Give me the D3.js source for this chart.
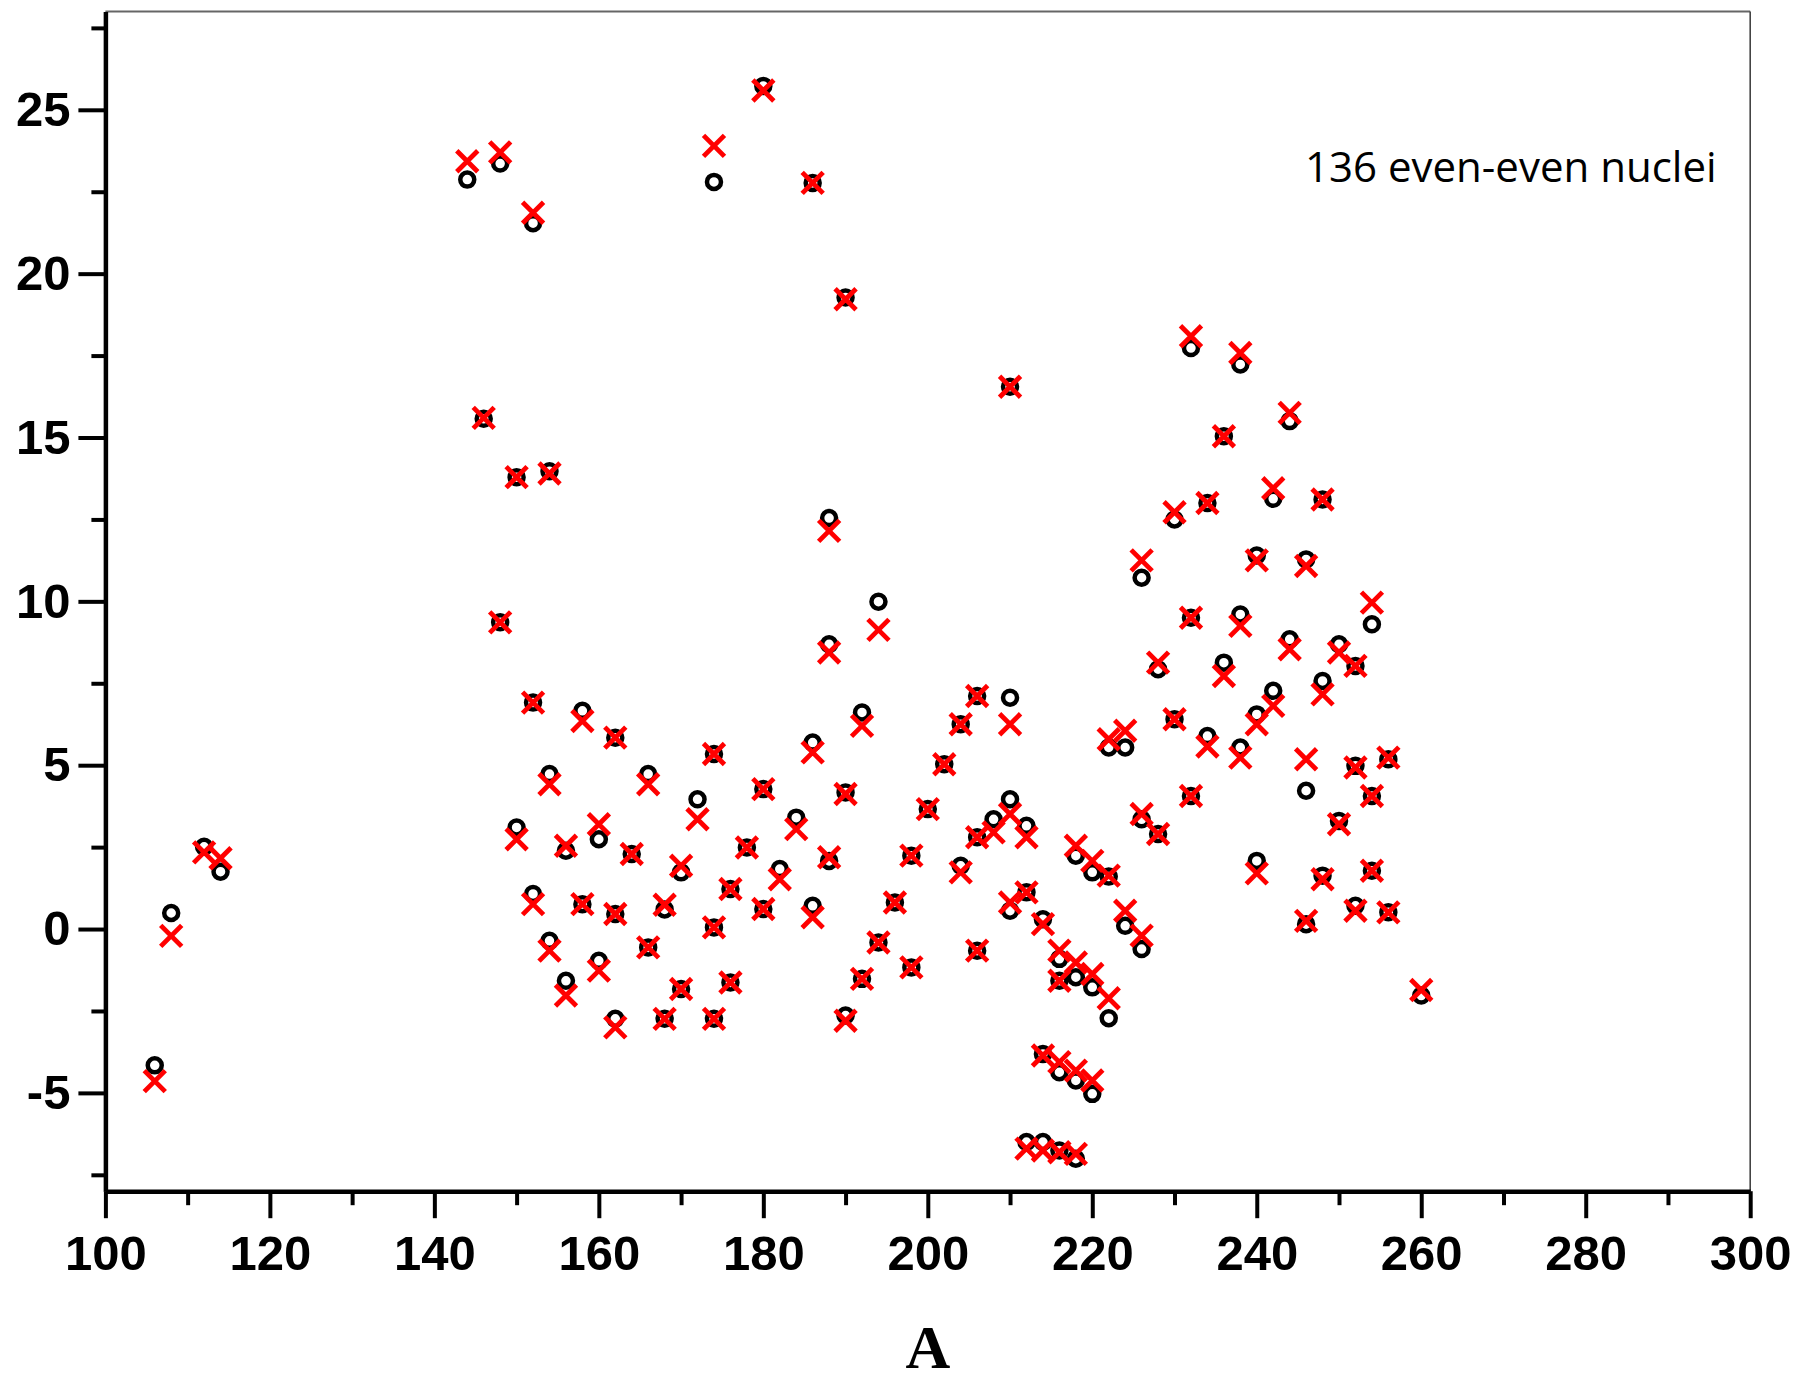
<!DOCTYPE html>
<html>
<head>
<meta charset="utf-8">
<script src="https://cdn.jsdelivr.net/npm/d3@7"></script>
<style>
  html, body { margin: 0; padding: 0; background: #fff; }
  svg { display: block; }
</style>
</head>
<body>
<svg id="chart" width="1796" height="1384"></svg>
<script>
// Mass number A of each nucleus
const massNumbers = [
  106, 108, 112, 114,
  144, 146, 148, 148, 150, 150, 152, 152, 152, 154, 154, 154, 156, 156, 158, 158, 160, 160, 162, 162, 162,
  164, 166, 166, 168, 168, 170, 170, 172, 174, 174, 174, 174, 176, 176, 178, 180, 180, 180, 182,
  184, 186, 186, 186, 188, 188, 188, 190, 190, 190, 192, 192, 194, 194, 196, 198, 198, 200, 202,
  204, 204, 206, 206, 206, 208, 210, 210, 210, 210, 212, 212, 212, 214, 214, 214, 216, 216, 216, 216, 218, 218, 218, 218, 220, 220, 220, 222, 222, 222,
  224, 224, 226, 226, 226, 228, 228, 230, 230, 232, 232, 232, 234, 234, 236, 236, 238, 238, 238, 240, 240, 240, 242, 242,
  244, 244, 246, 246, 246, 248, 248, 248, 250, 250, 252, 252, 252, 254, 254, 254, 256, 256, 260
];

// First series (black open circles)
const circleSeries = [
  -4.16, 0.49, 2.51, 1.75,
  22.87, 15.57, 23.36, 9.36, 13.79, 3.10, 21.54, 6.91, 1.07, 13.97, 4.73, -0.36, 2.39, -1.58, 6.66, 0.76, 2.74, -0.97, 5.84, 0.46, -2.74,
  2.29, 4.73, -0.56, 0.60, -2.74, 1.73, -1.83, 3.96, 22.80, 5.34, 0.05, -2.74, 1.22, -1.63, 2.49, 25.73, 4.27, 0.61, 1.83,
  3.40, 22.77, 5.69, 0.71, 12.54, 8.69, 2.08, 19.27, 4.17, -2.64, 6.61, -1.52, 9.99, -0.41, 0.81, 2.24, -1.17, 3.66, 5.03,
  6.25, 1.93, 7.11, 2.80, -0.66, 3.35, 16.55, 7.06, 3.96, 0.56, 3.15, 1.12, -6.50, 0.30, -3.81, -6.50, -0.91, -1.58, -4.37, -6.76, 2.24, -1.47, -4.62, -7.01, 1.73, -1.78, -5.03, 5.54, 1.60, -2.72,
  5.54, 0.10, 10.72, 3.35, -0.61, 7.93, 2.90, 12.50, 6.40, 17.73, 9.50, 4.06, 13.00, 5.89, 15.04, 8.13, 17.23, 9.60, 5.54, 11.40, 6.55, 2.08, 13.13, 7.27,
  15.50, 8.84, 11.28, 4.22, 0.15, 13.11, 7.57, 1.63, 8.69, 3.30, 8.03, 4.98, 0.71, 9.30, 4.06, 1.78, 5.18, 0.51, -2.03
];

// Second series (red crosses)
const crossSeries = [
  -4.64, -0.21, 2.34, 2.16,
  23.43, 15.60, 23.70, 9.36, 13.79, 2.74, 21.86, 6.91, 0.76, 13.90, 4.42, -0.66, 2.54, -2.03, 6.35, 0.76, 3.20, -1.27, 5.84, 0.46, -3.00,
  2.29, 4.42, -0.56, 0.74, -2.74, 1.93, -1.83, 3.35, 23.90, 5.34, 0.05, -2.74, 1.22, -1.63, 2.49, 25.59, 4.27, 0.61, 1.52,
  3.05, 22.77, 5.39, 0.36, 12.15, 8.44, 2.19, 19.22, 4.12, -2.80, 6.20, -1.52, 9.13, -0.41, 0.81, 2.24, -1.17, 3.66, 5.03,
  6.25, 1.73, 7.11, 2.80, -0.66, 2.95, 16.55, 6.25, 3.51, 0.81, 2.80, 1.12, -6.70, 0.15, -3.86, -6.76, -0.66, -1.58, -4.06, -6.81, 2.54, -1.02, -4.32, -6.86, 2.08, -1.37, -4.62, 5.79, 1.63, -2.11,
  6.05, 0.56, 11.25, 3.51, -0.20, 8.13, 2.90, 12.72, 6.40, 18.09, 9.50, 4.06, 13.00, 5.57, 15.04, 7.72, 17.58, 9.25, 5.23, 11.25, 6.25, 1.70, 13.45, 6.81,
  15.75, 8.54, 11.08, 5.18, 0.25, 13.11, 7.16, 1.52, 8.44, 3.20, 8.03, 4.93, 0.56, 9.96, 4.06, 1.78, 5.23, 0.51, -1.86
];

// Axis ticks and labels
const xMajorTicks = [100, 120, 140, 160, 180, 200, 220, 240, 260, 280, 300];
const xTickLabels = ["100", "120", "140", "160", "180", "200", "220", "240", "260", "280", "300"];
const xMinorTicks = [110, 130, 150, 170, 190, 210, 230, 250, 270, 290];
const yMajorTicks = [-5, 0, 5, 10, 15, 20, 25];
const yTickLabels = ["-5", "0", "5", "10", "15", "20", "25"];
const yMinorTicks = [-7.5, -2.5, 2.5, 7.5, 12.5, 17.5, 22.5, 27.5];

const xTitle = "A";
const annotation = "136 even-even nuclei";

// Plot frame
const plot = { left: 105.4, right: 1750.2, top: 11.5, bottom: 1191.2 };

const x = d3.scaleLinear().domain([100, 300]).range([plot.left, plot.right]);
const y = d3.scaleLinear().domain([-8, 28]).range([plot.bottom, plot.top]);

const svg = d3.select("#chart");
svg.append("rect").attr("width", 1796).attr("height", 1384).attr("fill", "#fff");

const points = massNumbers.map((a, i) => ({ a, c: circleSeries[i], x: crossSeries[i] }));

// Thin frame on top and right
svg.append("line")
  .attr("x1", plot.left).attr("x2", plot.right)
  .attr("y1", plot.top).attr("y2", plot.top)
  .attr("stroke", "#666").attr("stroke-width", 2);
svg.append("line")
  .attr("x1", plot.right).attr("x2", plot.right)
  .attr("y1", plot.top).attr("y2", plot.bottom)
  .attr("stroke", "#444").attr("stroke-width", 1.6);

const tickFont = "'Liberation Sans', Arial, sans-serif";

// Left axis: major ticks with labels
const yAxis = svg.append("g")
  .attr("transform", `translate(${plot.left},0)`)
  .call(d3.axisLeft(y)
    .tickValues(yMajorTicks)
    .tickFormat((d, i) => yTickLabels[i])
    .tickSize(27)
    .tickSizeOuter(0)
    .tickPadding(8));
// Left axis: minor ticks
const yMinor = svg.append("g")
  .attr("transform", `translate(${plot.left},0)`)
  .call(d3.axisLeft(y).tickValues(yMinorTicks).tickFormat("").tickSize(14).tickSizeOuter(0));
yMinor.select(".domain").remove();

// Bottom axis: major ticks with labels
const xAxis = svg.append("g")
  .attr("transform", `translate(0,${plot.bottom})`)
  .call(d3.axisBottom(x)
    .tickValues(xMajorTicks)
    .tickFormat((d, i) => xTickLabels[i])
    .tickSize(27)
    .tickSizeOuter(0)
    .tickPadding(17));
// Bottom axis: minor ticks
const xMinor = svg.append("g")
  .attr("transform", `translate(0,${plot.bottom})`)
  .call(d3.axisBottom(x).tickValues(xMinorTicks).tickFormat("").tickSize(14).tickSizeOuter(0));
xMinor.select(".domain").remove();

[yAxis, yMinor, xAxis, xMinor].forEach(g => {
  g.selectAll(".domain").attr("stroke", "#000").attr("stroke-width", 4.5);
  g.selectAll(".tick line").attr("stroke", "#000").attr("stroke-width", 4);
  g.selectAll(".tick text")
    .attr("fill", "#000")
    .style("font-family", tickFont)
    .style("font-weight", "bold")
    .style("font-size", "49px");
});

// Axis title
svg.append("text")
  .attr("x", (plot.left + plot.right) / 2)
  .attr("y", 1368)
  .attr("text-anchor", "middle")
  .style("font-family", "'Liberation Serif', 'Times New Roman', serif")
  .style("font-weight", "bold")
  .style("font-size", "62px")
  .text(xTitle);

// Annotation
svg.append("text")
  .attr("x", 1305)
  .attr("y", 182)
  .style("font-family", "'Open Sans', sans-serif")
  .style("font-size", "42px")
  .attr("fill", "#000")
  .text(annotation);

// Black open circles
svg.append("g")
  .selectAll("circle")
  .data(points)
  .join("circle")
  .attr("cx", d => x(d.a))
  .attr("cy", d => y(d.c))
  .attr("r", 7)
  .attr("fill", "none")
  .attr("stroke", "#000")
  .attr("stroke-width", 4.5);

// Red crosses
const s = 10.5;
svg.append("g")
  .selectAll("path")
  .data(points)
  .join("path")
  .attr("transform", d => `translate(${x(d.a)},${y(d.x)})`)
  .attr("d", `M${-s},${-s}L${s},${s}M${-s},${s}L${s},${-s}`)
  .attr("fill", "none")
  .attr("stroke", "#ff0000")
  .attr("stroke-width", 4.8);
</script>
</body>
</html>
